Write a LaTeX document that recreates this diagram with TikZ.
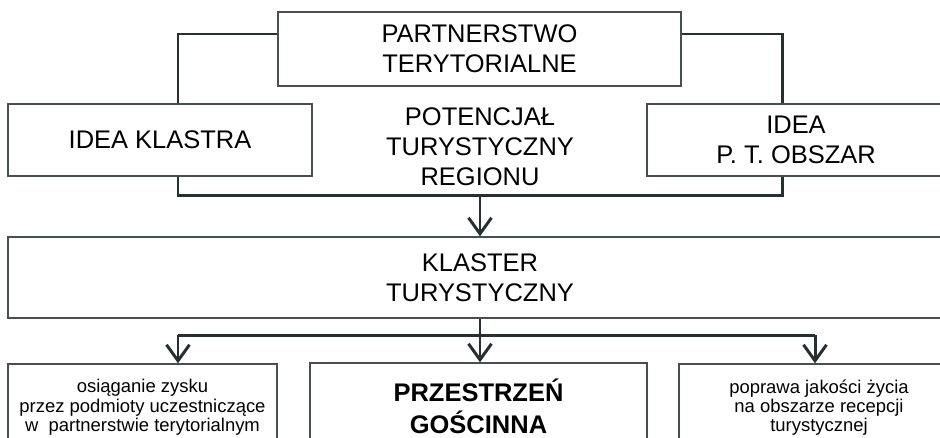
\documentclass[tikz,border=0pt]{standalone}
\usepackage{fontspec}
\setmainfont{Liberation Sans}
\usepackage{tikz}
\usetikzlibrary{arrows.meta}

\definecolor{lineC}{RGB}{38,48,50}

\begin{document}
\begin{tikzpicture}[x=0.02cm, y=-0.02cm,
    box/.style={draw=lineC!85, line width=0.8pt, fill=white, inner sep=0pt, align=center,
                font=\fontsize{14.5}{17}\selectfont},
    smallbox/.style={box, font=\fontsize{10.5}{11}\selectfont},
    frameline/.style={draw=lineC, line width=1.7pt},
    arr/.style={frameline, -{Straight Barb[length=0.32cm, width=0.46cm]}}]

  \useasboundingbox (0,0) rectangle (940,437);
  \clip (0,0) rectangle (940,437);

  \coordinate (ftl) at (178,34);
  \coordinate (fbl) at (178,195);
  \coordinate (fbr) at (782,195);
  \coordinate (ftr) at (782,34);
  \coordinate (bl) at (178,335);
  \coordinate (br) at (815,335);

  \node[box, minimum width=8.06cm, minimum height=1.48cm] (partner) at (479.5,49)
    {PARTNERSTWO\\TERYTORIALNE};

  \draw[frameline] (partner.west |- ftl) -- (ftl) -- (fbl) -- (fbr) -- (ftr) -- (partner.east |- ftr);

  \node[box, minimum width=6.08cm, minimum height=1.44cm] (klastra) at (160,140) {IDEA KLASTRA};
  \node[box, minimum width=5.96cm, minimum height=1.44cm] (obszar) at (796,140) {IDEA\\P. T. OBSZAR};
  \node[box, draw=none, fill=none] (potencjal) at (480,147) {POTENCJAŁ\\TURYSTYCZNY\\REGIONU};

  \node[box, minimum width=18.88cm, minimum height=1.62cm] (klaster) at (480,277.5) {KLASTER\\TURYSTYCZNY};

  \node[smallbox, minimum width=5.38cm, minimum height=1.74cm] (zysk) at (142.5,407.5)
    {osiąganie zysku\\przez podmioty uczestniczące\\w\ \ partnerstwie terytorialnym};
  \node[box, minimum width=6.74cm, minimum height=1.74cm,
        font=\fontsize{14.5}{18.2}\selectfont\bfseries] (przestrzen) at (478.5,406.5)
    {PRZESTRZEŃ\\GOŚCINNA};
  \node[smallbox, minimum width=5.6cm, minimum height=1.74cm] (poprawa) at (819,407.5)
    {poprawa jakości życia\\na obszarze recepcji\\turystycznej};

  \draw[arr] (klaster.north |- fbl) -- (klaster.north);

  \draw[frameline] (bl) -- (br);
  \draw[arr] (klaster.south) -- (przestrzen.north -| klaster.south);
  \draw[arr] (bl) -- (zysk.north -| bl);
  \draw[arr] (br) -- (poprawa.north -| br);

\end{tikzpicture}
\end{document}
